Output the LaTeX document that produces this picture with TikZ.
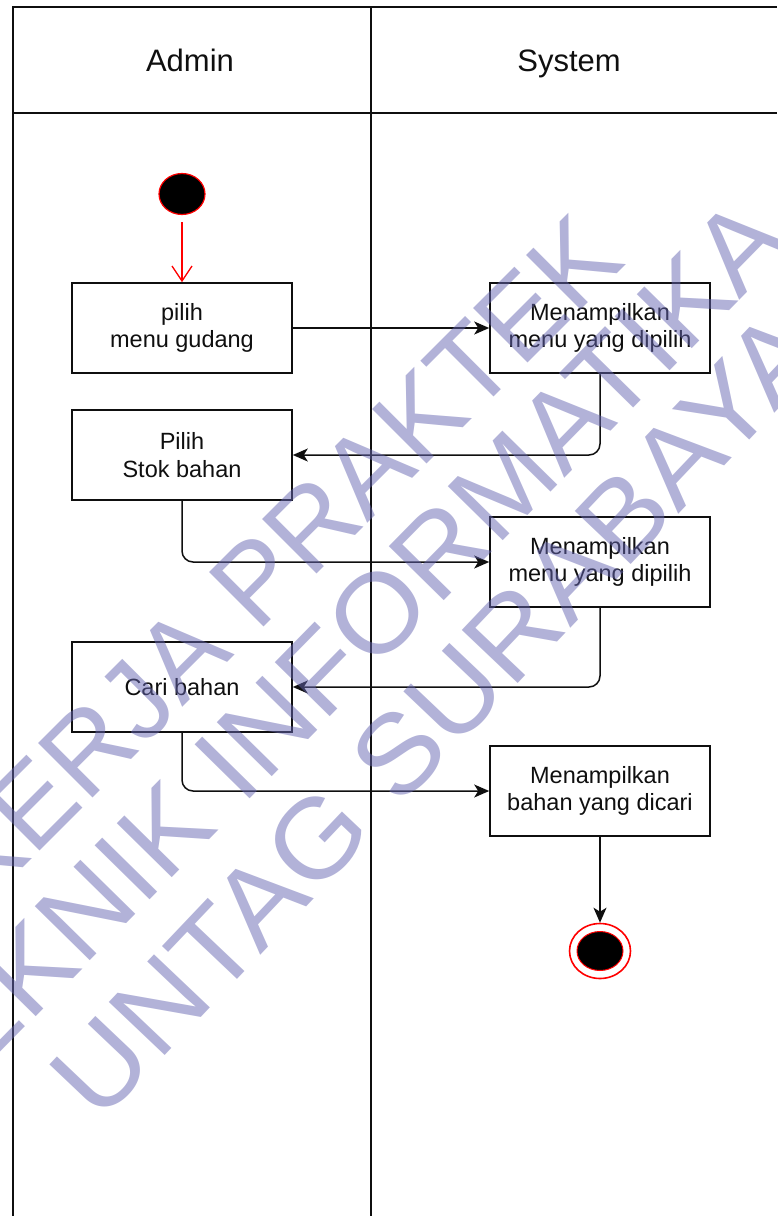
\documentclass[tikz,border=0pt]{standalone}
\usepackage{fontspec}
\setmainfont{Liberation Sans}
\usetikzlibrary{arrows.meta,shapes.geometric}

\definecolor{wmblue}{RGB}{101,101,177}
\definecolor{ink}{RGB}{15,15,15}

\tikzset{
  lane/.style={line width=1.6pt, draw=ink},
  lanehead/.style={font=\fontsize{31}{34}\selectfont, text=ink, anchor=base},
  activity/.style={draw=ink, line width=1.6pt, rectangle, minimum width=220pt,
    minimum height=90pt, align=center, inner sep=0pt, text=ink,
    font=\fontsize{23.5}{27.5}\selectfont},
  flow/.style={line width=1.5pt, draw=ink, rounded corners=11pt,
    -{Stealth[length=15pt,width=13pt,inset=4pt]}},
  startflow/.style={line width=1.3pt, draw=red, shorten <=7pt,
    -{Straight Barb[length=15pt,width=20pt,line width=1.3pt]}},
  initial/.style={ellipse, fill=black, draw=red, line width=1.2pt,
    minimum width=46pt, minimum height=41pt, inner sep=0pt},
  final/.style={ellipse, draw=red, fill=white, line width=1.6pt,
    minimum width=61pt, minimum height=55pt, inner sep=0pt},
  finalcore/.style={ellipse, fill=black, draw=red, line width=1pt,
    minimum width=46pt, minimum height=39pt, inner sep=0pt},
  wm/.style={text=wmblue, text opacity=0.5, inner sep=0pt,
    font=\fontsize{112}{120}\selectfont},
}

\begin{document}
\begin{tikzpicture}[x=1pt, y=-1pt]
  \useasboundingbox (0,0) rectangle (777,1216);
  \clip (0,0) rectangle (777,1216);

  % swimlane frame
  \draw[lane] (13,1216) -- (13,7) -- (777,7);
  \draw[lane] (13,113) -- (777,113);
  \draw[lane] (371,7) -- (371,1216);
  \node[lanehead] (hAdmin) at (190,71) {Admin};
  \node[lanehead] (hSystem) at (569,71) {System};

  % activities
  \node[initial] (start) at (182,194) {};
  \node[activity] (b1) at (182,328) {pilih\\menu gudang};
  \node[activity] (s1) at (600,328) {Menampilkan\\menu yang dipilih};
  \node[activity] (b2) at (182,455) {Pilih\\Stok bahan};
  \node[activity] (s2) at (600,562) {Menampilkan\\menu yang dipilih};
  \node[activity] (b3) at (182,687) {Cari bahan};
  \node[activity] (s3) at (600,791) {Menampilkan\\bahan yang dicari};
  \node[final] (end) at (600,951) {};
  \node[finalcore] (endcore) at (end.center) {};

  % control flow
  \draw[startflow] (start) -- (b1);
  \draw[flow] (b1) -- (s1);
  \draw[flow] (s1.south) |- (b2.east);
  \draw[flow] (b2.south) |- (s2.west);
  \draw[flow] (s2.south) |- (b3.east);
  \draw[flow] (b3.south) |- (s3.west);
  \draw[flow] (s3) -- (end);

  % watermark
  \node[wm, rotate=45] (wm1) at (277,560) {KERJA PRAKTEK};
  \node[wm, rotate=45.5, xscale=1.04] (wm2) at (332,660) {TEKNIK INFORMATIKA};
  \node[wm, rotate=46.5, xscale=1.05] (wm3) at (436,714) {UNTAG SURABAYA};
\end{tikzpicture}
\end{document}
